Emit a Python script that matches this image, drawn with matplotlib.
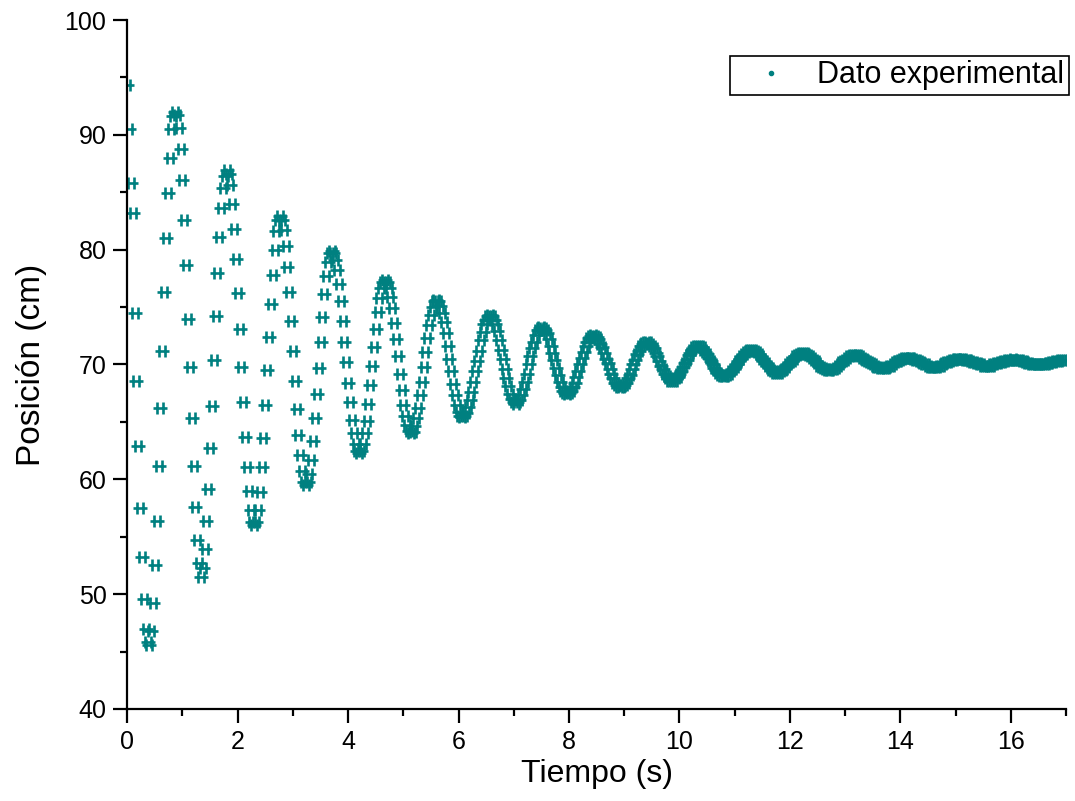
import numpy as np
import matplotlib.pyplot as plt
from matplotlib.path import Path
from matplotlib.lines import Line2D
from matplotlib.ticker import MultipleLocator

plt.rcParams['font.family'] = ['Liberation Sans', 'DejaVu Sans']

# video a 30 cuadros por segundo
dt = 1 / 30

# posicion (cm), un renglon por medio ciclo
posicion = [
    94.3, 90.5, 85.8, 83.2, 74.5, 68.6, 62.9, 57.5, 53.2, 49.6, 47.0, 45.8,
    45.6, 46.8, 49.2, 52.5, 56.4, 61.2, 66.2, 71.2, 76.3, 81.0, 84.9, 88.0, 90.5, 91.6,
    92.0, 91.7, 90.6, 88.8, 86.1, 82.6, 78.7, 74.0, 69.8, 65.3, 61.2, 57.6, 54.7, 52.7,
    51.5, 52.3, 53.9, 56.4, 59.2, 62.7, 66.4, 70.4, 74.2, 78.0, 81.1, 83.6, 85.4, 86.4,
    86.9, 86.6, 85.6, 84.0, 81.8, 79.2, 76.2, 73.1, 69.8, 66.7, 63.7, 61.1, 59.0, 57.3, 56.3,
    56.0, 56.3, 57.3, 58.9, 61.1, 63.6, 66.5, 69.5, 72.4, 75.3, 77.8, 80.0, 81.6, 82.6,
    82.9, 82.6, 81.7, 80.3, 78.5, 76.3, 73.8, 71.2, 68.6, 66.1, 63.9, 62.1, 60.7, 59.8,
    59.5, 59.8, 60.5, 61.7, 63.3, 65.3, 67.4, 69.7, 72.0, 74.1, 76.1, 77.7, 78.9, 79.7,
    79.9, 79.7, 79.1, 78.2, 77.0, 75.5, 73.8, 72.0, 70.2, 68.4, 66.7, 65.2, 64.0, 63.1, 62.5,
    62.3, 62.5, 63.1, 64.0, 65.1, 66.6, 68.2, 69.9, 71.5, 73.1, 74.6, 75.8, 76.7, 77.2,
    77.4, 77.2, 76.7, 75.9, 74.9, 73.6, 72.2, 70.7, 69.2, 67.8, 66.5, 65.5, 64.7, 64.2,
    64.0, 64.1, 64.6, 65.3, 66.2, 67.3, 68.5, 69.8, 71.1, 72.3, 73.4, 74.3, 75.0, 75.5,
    75.6, 75.5, 75.1, 74.5, 73.7, 72.7, 71.6, 70.5, 69.4, 68.3, 67.3, 66.5, 65.9, 65.5,
    65.4, 65.5, 65.8, 66.3, 66.9, 67.6, 68.5, 69.4, 70.3, 71.2, 72.1, 72.8, 73.5, 73.9, 74.2,
    74.3, 74.2, 73.9, 73.5, 72.9, 72.1, 71.3, 70.5, 69.6, 68.8, 68.1, 67.4, 67.0, 66.7,
    66.6, 66.7, 66.9, 67.3, 67.9, 68.5, 69.2, 70.0, 70.7, 71.4, 72.0, 72.6, 73.0, 73.2,
    73.3, 73.2, 73.0, 72.7, 72.2, 71.6, 71.0, 70.4, 69.7, 69.1, 68.5, 68.0, 67.7, 67.5,
    67.4, 67.5, 67.7, 68.0, 68.4, 68.9, 69.4, 70.0, 70.6, 71.1, 71.6, 72.0, 72.3, 72.5,
    72.6, 72.5, 72.4, 72.2, 71.8, 71.5, 71.0, 70.5, 70.1, 69.6, 69.2, 68.8, 68.4, 68.2, 68.0,
    68.0, 68.1, 68.2, 68.4, 68.8, 69.1, 69.6, 70.0, 70.4, 70.9, 71.2, 71.6, 71.8, 71.9,
    72.0, 72.0, 71.8, 71.6, 71.4, 71.0, 70.7, 70.3, 69.9, 69.6, 69.2, 69.0, 68.8, 68.6,
    68.6, 68.6, 68.8, 68.9, 69.2, 69.4, 69.8, 70.1, 70.4, 70.8, 71.0, 71.3, 71.5, 71.6,
    71.6, 71.6, 71.5, 71.3, 71.1, 70.9, 70.6, 70.3, 70.0, 69.7, 69.5, 69.3, 69.1, 69.0,
    69.0, 69.0, 69.1, 69.2, 69.4, 69.6, 69.8, 70.0, 70.3, 70.5, 70.7, 70.9, 71.1, 71.2, 71.3,
    71.3, 71.3, 71.2, 71.1, 70.9, 70.7, 70.5, 70.3, 70.1, 69.9, 69.7, 69.5, 69.4, 69.3,
    69.3, 69.3, 69.4, 69.5, 69.6, 69.8, 70.0, 70.2, 70.3, 70.5, 70.7, 70.8, 70.9, 71.0,
    71.0, 71.0, 70.9, 70.8, 70.7, 70.6, 70.4, 70.3, 70.1, 69.9, 69.8, 69.7, 69.6, 69.5,
    69.5, 69.5, 69.6, 69.6, 69.7, 69.9, 70.0, 70.2, 70.3, 70.4, 70.6, 70.7, 70.7, 70.8,
    70.8, 70.8, 70.8, 70.7, 70.6, 70.5, 70.4, 70.3, 70.2, 70.1, 70.0, 69.9, 69.8, 69.8, 69.7,
    69.7, 69.7, 69.7, 69.8, 69.9, 69.9, 70.0, 70.2, 70.3, 70.3, 70.4, 70.5, 70.6, 70.6,
    70.6, 70.6, 70.6, 70.5, 70.4, 70.4, 70.3, 70.2, 70.1, 70.0, 70.0, 69.9, 69.8, 69.8,
    69.8, 69.8, 69.8, 69.9, 69.9, 70.0, 70.1, 70.2, 70.2, 70.3, 70.4, 70.4, 70.5, 70.5,
    70.5, 70.5, 70.5, 70.4, 70.4, 70.4, 70.3, 70.2, 70.2, 70.1, 70.1, 70.0, 70.0, 69.9, 69.9,
    69.9, 69.9, 69.9, 70.0, 70.0, 70.1, 70.1, 70.2, 70.2, 70.3, 70.3, 70.4, 70.4, 70.4,
    70.5, 70.4, 70.4, 70.4, 70.4, 70.3, 70.3, 70.2, 70.1, 70.1, 70.0, 70.0, 70.0, 70.0,
    70.0, 70.0, 70.0, 70.0, 70.0, 70.1, 70.1, 70.2, 70.2, 70.3, 70.3, 70.3, 70.4, 70.4, 70.4,
]
tiempo = np.arange(len(posicion)) * dt

teal = '#008080'

# marcador tipo "++" como el de Origin
verts = [(-6, 0), (6, 0), (-3, -5), (-3, 5), (3, -5), (3, 5)]
codes = [Path.MOVETO, Path.LINETO] * 3
marcador = Path(verts, codes)

fig = plt.figure(figsize=(10.75, 8.01), dpi=100)
ax = fig.add_axes([0.1184, 0.1149, 0.8732, 0.8601])

ax.plot(tiempo, posicion, ls='none', marker=marcador, ms=10, mew=1.9,
        mec=teal, mfc='none')

ax.set_xlim(0, 17)
ax.set_ylim(40, 100)
ax.xaxis.set_major_locator(MultipleLocator(2))
ax.xaxis.set_minor_locator(MultipleLocator(1))
ax.yaxis.set_major_locator(MultipleLocator(10))
ax.yaxis.set_minor_locator(MultipleLocator(5))

for s in ['top', 'right']:
    ax.spines[s].set_visible(False)
for s in ['left', 'bottom']:
    ax.spines[s].set_linewidth(1.6)

ax.tick_params(which='major', direction='out', length=10, width=1.6,
               labelsize=18, pad=5)
ax.tick_params(which='minor', direction='out', length=5, width=1.6)

ax.set_xlabel('Tiempo (s)', fontsize=23, labelpad=4)
ax.set_ylabel('Posición (cm)', fontsize=24, labelpad=13)

handle = Line2D([], [], ls='none', marker='o', ms=3, color=teal)
leg = ax.legend([handle], ['Dato experimental'], loc='upper right',
                bbox_to_anchor=(1.003, 0.948), fontsize=22, fancybox=False,
                edgecolor='black', framealpha=1, borderpad=0.15,
                handlelength=2.4, handletextpad=0.3, borderaxespad=0)
leg.get_frame().set_linewidth(1.2)

fig.savefig('out.png', dpi=100)
